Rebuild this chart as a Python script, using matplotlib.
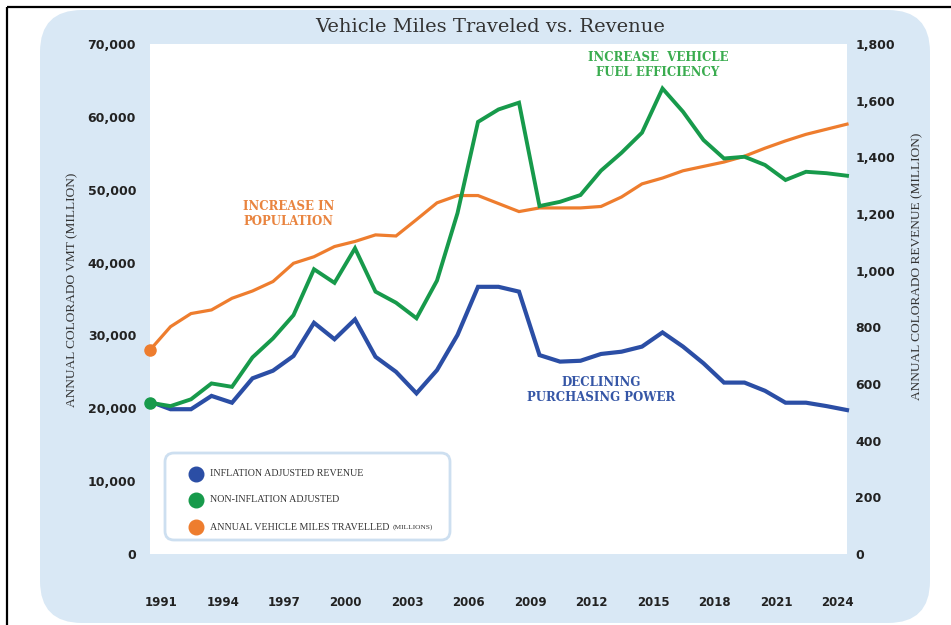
import matplotlib
matplotlib.use("Agg")
import matplotlib.pyplot as plt
from matplotlib.patches import FancyBboxPatch

# ---- data ----
years = list(range(1990, 2025))

# Annual vehicle miles travelled (millions) - left axis
vmt = [28000, 31200, 33000, 33500, 35100, 36100, 37400, 39900, 40800, 42200,
       42900, 43800, 43650, 45900, 48200, 49200, 49200, 48100, 47000, 47500,
       47500, 47500, 47700, 49000, 50800, 51600, 52600, 53200, 53800, 54600,
       55700, 56700, 57600, 58300, 59000]

# Inflation adjusted revenue (millions) - right axis
rev_adjusted = [538, 511, 511, 558, 534, 620, 647, 699, 816, 758,
                828, 696, 643, 567, 649, 773, 943, 943, 926, 702,
                679, 682, 706, 714, 732, 782, 732, 673, 605, 605,
                576, 534, 534, 522, 508]

# Non-inflation adjusted revenue (millions) - right axis
rev_nominal = [534, 522, 546, 602, 590, 694, 761, 843, 1005, 957,
               1079, 926, 887, 832, 965, 1203, 1525, 1569, 1593, 1228,
               1243, 1267, 1353, 1416, 1487, 1643, 1561, 1461, 1396, 1402,
               1373, 1320, 1349, 1344, 1335]

left_ticks = [0, 10000, 20000, 30000, 40000, 50000, 60000, 70000]
right_ticks = [0, 200, 400, 600, 800, 1000, 1200, 1400, 1600, 1800]
year_ticks = [1991, 1994, 1997, 2000, 2003, 2006, 2009, 2012, 2015, 2018, 2021, 2024]

legend_labels = ["INFLATION ADJUSTED REVENUE", "NON-INFLATION ADJUSTED",
                 "ANNUAL VEHICLE MILES TRAVELLED"]

BLUE = "#2b4ea5"
GREEN = "#179a4b"
ORANGE = "#ee7d2e"
PANEL = "#d9e8f5"
TICK_COLOR = "#222222"

W, H = 951, 625
fig = plt.figure(figsize=(W / 100, H / 100), dpi=100)
fig.patch.set_facecolor("white")

# background layer in pixel coordinates
bg = fig.add_axes([0, 0, 1, 1], zorder=-5)
bg.set_xlim(0, W)
bg.set_ylim(H, 0)
bg.axis("off")
bg.add_patch(FancyBboxPatch((40, 10), 890, 613,
                            boxstyle="round,pad=0,rounding_size=42",
                            fc=PANEL, ec="none"))
bg.plot([7, 7], [7, H], color="black", lw=1.6, solid_capstyle="butt")
bg.plot([7, W], [7, 7], color="black", lw=1.6, solid_capstyle="butt")

# main plotting area
ax = fig.add_axes([150 / W, 1 - 554 / H, 697 / W, 510 / H])
ax.set_facecolor("white")
for s in ax.spines.values():
    s.set_visible(False)
ax.set_xlim(years[0], years[-1])
ax.set_ylim(0, 70000)

ax2 = ax.twinx()
for s in ax2.spines.values():
    s.set_visible(False)
ax2.set_ylim(0, 1800)

ax.plot(years, vmt, color=ORANGE, lw=2.3, solid_joinstyle="miter", clip_on=False)
ax.plot(years[0], vmt[0], "o", ms=8, color=ORANGE, clip_on=False)
ax2.plot(years, rev_adjusted, color=BLUE, lw=3.0, solid_joinstyle="miter", clip_on=False)
ax2.plot(years, rev_nominal, color=GREEN, lw=2.8, solid_joinstyle="miter", clip_on=False)
ax2.plot(years[0], rev_nominal[0], "o", ms=8, color=GREEN, clip_on=False)

# ticks
ax.set_yticks(left_ticks)
ax.set_yticklabels([f"{v:,}" for v in left_ticks])
ax2.set_yticks(right_ticks)
ax2.set_yticklabels([f"{v:,}" for v in right_ticks])
ax.set_xticks([y - 0.45 for y in year_ticks])
ax.set_xticklabels([str(y) for y in year_ticks])

ax.tick_params(axis="y", length=0, pad=10, labelsize=9, labelcolor=TICK_COLOR)
ax2.tick_params(axis="y", length=0, pad=6, labelsize=9, labelcolor=TICK_COLOR)
ax.tick_params(axis="x", length=0, pad=30, labelsize=8.5, labelcolor=TICK_COLOR)
for lab in ax.get_yticklabels() + ax2.get_yticklabels() + ax.get_xticklabels():
    lab.set_fontweight("bold")
    lab.set_fontfamily("DejaVu Sans")

# overlay layer for texts and legend (pixel coordinates)
ov = fig.add_axes([0, 0, 1, 1], zorder=10)
ov.set_xlim(0, W)
ov.set_ylim(H, 0)
ov.axis("off")
ov.patch.set_alpha(0)

ov.text(490, 27, "Vehicle Miles Traveled vs. Revenue", ha="center", va="center",
        fontsize=14, family="DejaVu Serif", color="#333333")

ov.text(72, 290, "ANNUAL COLORADO VMT (MILLION)", rotation=90, ha="center",
        va="center", fontsize=9.6, family="Liberation Serif", color="#333333")
ov.text(917, 266, "ANNUAL COLORADO REVENUE (MILLION)", rotation=90, ha="center",
        va="center", fontsize=9.6, family="Liberation Serif", color="#333333")

# annotations
ov.text(243, 214, "INCREASE IN\nPOPULATION", ha="left", va="center",
        fontsize=8.5, family="DejaVu Serif", fontweight="bold",
        color="#e9843f", linespacing=1.15)
ov.text(658, 65, "INCREASE  VEHICLE\nFUEL EFFICIENCY", ha="center", va="center",
        fontsize=8.5, family="DejaVu Serif", fontweight="bold",
        color="#3aac4f", linespacing=1.15)
ov.text(601, 390, "DECLINING\nPURCHASING POWER", ha="center", va="center",
        fontsize=8.5, family="DejaVu Serif", fontweight="bold",
        color="#3556a6", linespacing=1.15)

# legend box
ov.add_patch(FancyBboxPatch((165, 453), 285, 87,
                            boxstyle="round,pad=0,rounding_size=9",
                            fc="white", ec="#cddff0", lw=2))
rows = [474, 500, 527]
colors = [BLUE, GREEN, ORANGE]
fig.canvas.draw()
renderer = fig.canvas.get_renderer()
for yrow, c, lab in zip(rows, colors, legend_labels):
    ov.plot(196, yrow, "o", ms=10.5, color=c)
    t = ov.text(210, yrow, lab, ha="left", va="center", fontsize=7.2,
                family="Liberation Serif", color="#333333")
    if lab.startswith("ANNUAL"):
        bb = t.get_window_extent(renderer=renderer)
        x_end = ov.transData.inverted().transform((bb.x1, bb.y0))[0]
        ov.text(x_end + 3, yrow + 0.5, "(MILLIONS)", ha="left", va="center",
                fontsize=5.4, family="Liberation Serif", color="#333333")

fig.savefig("out.png", dpi=100, facecolor="white")
